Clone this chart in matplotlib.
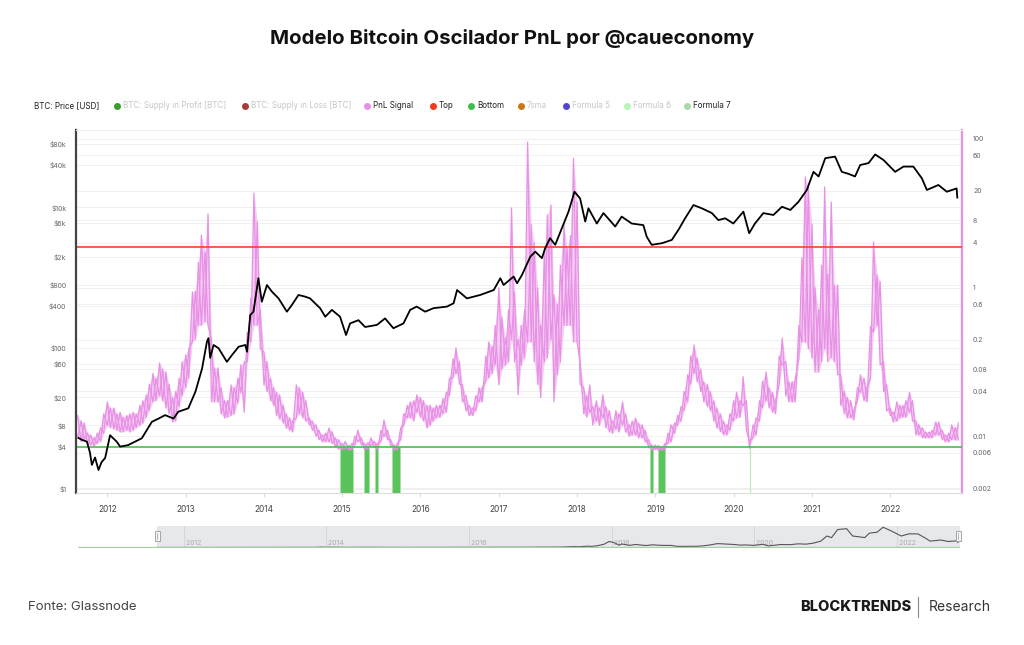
import numpy as np
import pandas as pd
import matplotlib
matplotlib.use("Agg")
import matplotlib.pyplot as plt
import matplotlib.dates as mdates
from matplotlib.lines import Line2D
from matplotlib.patches import Rectangle

plt.rcParams['font.family'] = ['Inter', 'DejaVu Sans']

# BTC price (USD)
price_dates = [
    '2011-08-20', '2011-09-04', '2011-09-28', '2011-10-12', '2011-10-21', '2011-11-05', '2011-11-21', '2011-12-05', '2011-12-22',
    '2012-01-14', '2012-02-14', '2012-03-01', '2012-04-07', '2012-06-10', '2012-07-27', '2012-08-27', '2012-09-27', '2012-11-05', '2012-11-27',
    '2013-01-13', '2013-02-15', '2013-03-18', '2013-04-10', '2013-04-17', '2013-04-25', '2013-05-11', '2013-06-03', '2013-07-12', '2013-08-05',
    '2013-09-05', '2013-10-06', '2013-10-14', '2013-10-29', '2013-11-13', '2013-12-06', '2013-12-22',
    '2014-01-15', '2014-02-07', '2014-03-10', '2014-04-18', '2014-05-11', '2014-06-11', '2014-07-12', '2014-08-04', '2014-09-20', '2014-10-14',
    '2014-11-14', '2014-12-22',
    '2015-01-19', '2015-02-07', '2015-03-18', '2015-04-18', '2015-06-12', '2015-07-20', '2015-08-28', '2015-10-14', '2015-11-14', '2015-12-15',
    '2016-01-23', '2016-03-02', '2016-05-04', '2016-06-04', '2016-06-20', '2016-08-05', '2016-10-06', '2016-12-08',
    '2017-01-08', '2017-01-23', '2017-03-11', '2017-03-27', '2017-04-19', '2017-05-28', '2017-06-20', '2017-07-21', '2017-08-05', '2017-08-28',
    '2017-09-21', '2017-10-22', '2017-11-22', '2017-12-20',
    '2018-01-15', '2018-02-08', '2018-02-23', '2018-04-03', '2018-05-04', '2018-06-28', '2018-07-28', '2018-09-13', '2018-11-06', '2018-11-22',
    '2018-12-15',
    '2019-02-01', '2019-03-19', '2019-04-19', '2019-05-20', '2019-06-28', '2019-08-06', '2019-09-22', '2019-10-22', '2019-11-23', '2019-12-31',
    '2020-02-16', '2020-03-14', '2020-04-10', '2020-05-19', '2020-07-05', '2020-08-14', '2020-09-22', '2020-10-30', '2020-12-08',
    '2021-01-08', '2021-02-01', '2021-03-04', '2021-04-19', '2021-05-20', '2021-06-20', '2021-07-21', '2021-08-14', '2021-09-22', '2021-10-23',
    '2021-12-01',
    '2022-01-24', '2022-03-04', '2022-04-19', '2022-05-29', '2022-06-21', '2022-08-14', '2022-09-22', '2022-11-07', '2022-11-10',
]
price_usd = [
    5.3, 5.0, 4.7, 3.3, 2.2, 2.8, 1.86, 2.4, 2.76,
    5.8, 4.7, 4.0, 4.2, 5.25, 9.0, 10.0, 11.2, 10.0, 12.5,
    14.0, 24, 51, 124, 139, 73, 111, 100, 64, 80,
    105, 111, 89, 296, 330, 985, 457,
    790, 636, 510, 330, 410, 570, 540, 510, 370, 280,
    350, 280,
    154, 225, 250, 200, 214, 265, 192, 225, 350, 390,
    330, 370, 390, 435, 670, 510, 570, 670,
    985, 790, 1040, 835, 1100, 2000, 2350, 1900, 2630, 3650,
    2940, 5050, 8700, 16700,
    13400, 6300, 9700, 5900, 8300, 5350, 7400, 5900, 5600, 3830,
    2940,
    3100, 3450, 4800, 7000, 10800, 9700, 8300, 6600, 7000, 5900,
    8700, 4300, 5900, 8300, 7800, 10200, 9200, 12000, 17700,
    32000, 27500, 50000, 52600, 32000, 30000, 27500, 40000, 42600, 56500,
    47000,
    32000, 38000, 38000, 25800, 17700, 20800, 16700, 18600, 13800,
]

# PnL signal band (upper / lower edge of the noisy pink trace), 1st and 15th of every month
signal_start = '2011-08-15'
signal_end = '2022-11-15'
pnl_high = [
    # 2011 (Aug 15 - Dec 15)
    0.019, 0.016, 0.015, 0.011, 0.0104, 0.0095, 0.011, 0.013, 0.020,
    # 2012
    0.029, 0.024, 0.024, 0.020, 0.021, 0.018, 0.019, 0.020, 0.021, 0.020, 0.026, 0.030,
    0.036, 0.050, 0.070, 0.060, 0.097, 0.080, 0.073, 0.050, 0.033, 0.040, 0.060, 0.10,
    # 2013
    0.124, 0.15, 0.87, 0.9, 2.2, 5.1, 3.0, 9.8, 0.20, 0.083, 0.083, 0.045,
    0.030, 0.030, 0.049, 0.045, 0.060, 0.091, 0.10, 0.25, 0.72, 18.7, 7.6, 0.5,
    # 2014
    0.136, 0.10, 0.060, 0.045, 0.039, 0.036, 0.026, 0.020, 0.0176, 0.016, 0.049, 0.045,
    0.039, 0.030, 0.0176, 0.016, 0.0142, 0.012, 0.0104, 0.011, 0.0129, 0.0115, 0.0095, 0.0090,
    # 2015
    0.0080, 0.0085, 0.0075, 0.0080, 0.0100, 0.0121, 0.0095, 0.0080, 0.0082, 0.0095, 0.0085, 0.0080,
    0.0120, 0.0165, 0.0120, 0.0090, 0.0076, 0.0080, 0.0130, 0.0200, 0.026, 0.029, 0.030, 0.036,
    # 2016
    0.033, 0.030, 0.026, 0.026, 0.024, 0.026, 0.026, 0.032, 0.039, 0.060, 0.110, 0.154,
    0.100, 0.049, 0.035, 0.026, 0.024, 0.035, 0.045, 0.045, 0.120, 0.185, 0.160, 0.31,
    # 2017
    0.99, 0.40, 0.21, 0.50, 11.8, 0.87, 0.20, 0.31, 0.5, 91, 7.0, 4.0,
    1.0, 0.31, 3.0, 9.5, 12.9, 0.8, 0.6, 2.0, 7.0, 3.4, 5.0, 55,
    # 2018
    14, 0.10, 0.045, 0.035, 0.049, 0.025, 0.030, 0.024, 0.036, 0.025, 0.022, 0.016,
    0.022, 0.020, 0.029, 0.020, 0.0142, 0.016, 0.0176, 0.015, 0.0142, 0.012, 0.0090, 0.0076,
    # 2019
    0.0076, 0.0075, 0.0072, 0.0080, 0.0110, 0.0142, 0.0150, 0.0190, 0.025, 0.040, 0.067, 0.120,
    0.169, 0.113, 0.080, 0.054, 0.050, 0.040, 0.030, 0.024, 0.020, 0.016, 0.0142, 0.020,
    # 2020
    0.030, 0.039, 0.030, 0.063, 0.030, 0.0085, 0.0142, 0.0176, 0.030, 0.055, 0.073, 0.045,
    0.039, 0.030, 0.120, 0.21, 0.10, 0.054, 0.054, 0.060, 0.31, 2.5, 30.8, 22.6,
    # 2021
    7.0, 1.0, 0.5, 2.0, 22.6, 1.5, 14.2, 1.08, 1.08, 0.067, 0.040, 0.033,
    0.030, 0.022, 0.045, 0.067, 0.060, 0.045, 0.30, 4.1, 1.48, 1.2, 0.10, 0.050,
    # 2022 (Jan 1 - Nov 15)
    0.024, 0.021, 0.029, 0.026, 0.026, 0.030, 0.039, 0.030, 0.016, 0.0142, 0.0129, 0.0114,
    0.0114, 0.012, 0.0155, 0.0155, 0.012, 0.0104, 0.0110, 0.0142, 0.0130, 0.0150,
]
pnl_low = [
    # 2011
    0.0095, 0.0085, 0.009, 0.0078, 0.0076, 0.0074, 0.008, 0.0085, 0.011,
    # 2012
    0.014, 0.013, 0.0125, 0.012, 0.0114, 0.0114, 0.012, 0.0114, 0.012, 0.013, 0.014, 0.015,
    0.018, 0.022, 0.029, 0.030, 0.035, 0.030, 0.024, 0.020, 0.0155, 0.016, 0.025, 0.035,
    # 2013
    0.045, 0.06, 0.185, 0.20, 0.31, 0.31, 0.35, 0.31, 0.029, 0.029, 0.029, 0.020,
    0.0176, 0.018, 0.019, 0.020, 0.028, 0.039, 0.021, 0.10, 0.185, 0.31, 0.31, 0.15,
    # 2014
    0.049, 0.040, 0.030, 0.026, 0.019, 0.017, 0.015, 0.0129, 0.012, 0.0114, 0.0176, 0.020,
    0.0176, 0.016, 0.0142, 0.0120, 0.0100, 0.0090, 0.0084, 0.0084, 0.0084, 0.0080, 0.0070, 0.0067,
    # 2015
    0.0066, 0.0068, 0.0065, 0.0066, 0.0076, 0.0085, 0.0076, 0.0066, 0.0067, 0.0075, 0.0070, 0.0066,
    0.0085, 0.0100, 0.0090, 0.0075, 0.0065, 0.0066, 0.0090, 0.0140, 0.0176, 0.0176, 0.0160, 0.021,
    # 2016
    0.018, 0.016, 0.0129, 0.014, 0.016, 0.0176, 0.018, 0.020, 0.021, 0.035, 0.061, 0.070,
    0.050, 0.029, 0.022, 0.019, 0.019, 0.022, 0.029, 0.029, 0.055, 0.061, 0.070, 0.091,
    # 2017
    0.049, 0.08, 0.091, 0.10, 0.20, 0.10, 0.036, 0.09, 0.113, 0.185, 0.185, 0.10,
    0.05, 0.033, 0.10, 0.113, 0.20, 0.029, 0.067, 0.10, 0.31, 0.31, 0.31, 0.185,
    # 2018
    0.185, 0.05, 0.020, 0.018, 0.021, 0.0142, 0.016, 0.014, 0.0176, 0.013, 0.0114, 0.0110,
    0.0125, 0.0114, 0.0142, 0.0114, 0.0100, 0.0104, 0.0104, 0.0095, 0.0095, 0.0084, 0.0070, 0.0065,
    # 2019
    0.0066, 0.0065, 0.0065, 0.0066, 0.0080, 0.0084, 0.0110, 0.0142, 0.016, 0.022, 0.029, 0.050,
    0.070, 0.054, 0.040, 0.029, 0.025, 0.022, 0.016, 0.0129, 0.0115, 0.0104, 0.0104, 0.0120,
    # 2020
    0.016, 0.0176, 0.018, 0.026, 0.012, 0.0069, 0.0095, 0.0104, 0.016, 0.024, 0.030, 0.024,
    0.021, 0.020, 0.050, 0.091, 0.035, 0.029, 0.029, 0.029, 0.113, 0.185, 0.185, 0.15,
    # 2021
    0.113, 0.073, 0.073, 0.10, 0.15, 0.10, 0.113, 0.10, 0.067, 0.026, 0.020, 0.0176,
    0.0176, 0.0165, 0.030, 0.039, 0.030, 0.029, 0.060, 0.25, 0.31, 0.091, 0.040, 0.022,
    # 2022
    0.019, 0.0155, 0.016, 0.0176, 0.018, 0.018, 0.021, 0.016, 0.0104, 0.0104, 0.0095, 0.0095,
    0.0095, 0.0095, 0.0104, 0.0104, 0.0090, 0.0084, 0.0084, 0.0090, 0.0089, 0.0089,
]

top_level = 3.5
bottom_level = 0.0072

# periods where the signal sits under the bottom band
bottom_zones = [
    ('2014-12-22', '2015-02-20'),
    ('2015-04-13', '2015-05-07'),
    ('2015-06-04', '2015-06-18'),
    ('2015-08-22', '2015-09-28'),
    ('2018-12-07', '2018-12-22'),
    ('2019-01-15', '2019-02-15'),
]
formula7_dates = ['2020-03-17']

left_ticks = [1, 4, 8, 20, 60, 100, 400, 800, 2000, 6000, 10000, 40000, 80000]
left_labels = ['$1', '$4', '$8', '$20', '$60', '$100', '$400', '$800', '$2k', '$6k', '$10k', '$40k', '$80k']
right_ticks = [0.002, 0.006, 0.01, 0.04, 0.08, 0.2, 0.6, 1, 4, 8, 20, 60, 100]
right_labels = ['0.002', '0.006', '0.01', '0.04', '0.08', '0.2', '0.6', '1', '4', '8', '20', '60', '100']

price_dates = pd.to_datetime(price_dates)
sig_dates = pd.date_range(signal_start, signal_end, freq='SMS')
hi = np.array(pnl_high)
lo = np.array(pnl_low)
even = np.arange(len(hi)) % 2 == 0
zig_a = np.where(even, hi, lo)
zig_b = np.where(even, lo, hi)

W, H = 1024, 645
PINK = '#e890e6'
fig = plt.figure(figsize=(W / 100, H / 100), dpi=100)
fig.patch.set_facecolor('white')

ax = fig.add_axes([76 / W, 1 - 493 / H, 886 / W, 363 / H])
ax2 = ax.twinx()
ax.set_zorder(ax2.get_zorder() + 1)
ax.patch.set_visible(False)

# signal axis (drawn underneath the price)
sig_lo, sig_hi = 0.00172, 132
lo_l, hi_l = 0.877, 125700
ax2.set_yscale('log')
ax2.set_ylim(sig_lo, sig_hi)
for v in right_ticks:
    ax2.axhline(v, color='#f0f0f0', lw=0.7, zorder=0)
for v in left_ticks:
    f = (np.log10(v) - np.log10(lo_l)) / (np.log10(hi_l) - np.log10(lo_l))
    ax2.plot([0, 1], [f, f], transform=ax2.transAxes, color='#f0f0f0', lw=0.7, zorder=0)

ax2.fill_between(sig_dates, lo, hi, color=PINK, alpha=0.45, lw=0, zorder=2)
ax2.plot(sig_dates, zig_a, color=PINK, lw=0.9, zorder=2)
ax2.plot(sig_dates, zig_b, color=PINK, lw=0.9, zorder=2)
ax2.axhline(top_level, color='#f2462a', lw=1.2, zorder=3)
ax2.axhline(bottom_level, color='#4cc04f', lw=1.2, zorder=3)
for s, e in bottom_zones:
    ax2.fill_between(pd.to_datetime([s, e]), sig_lo, bottom_level, color='#5ac35c',
                     edgecolor='#a9e2a9', lw=0.6, zorder=1)
for d in formula7_dates:
    ax2.vlines(pd.to_datetime(d), sig_lo, bottom_level, color='#bfe8bf', lw=0.9, zorder=1)

ax2.set_yticks(right_ticks)
ax2.set_yticklabels(right_labels)
ax2.yaxis.set_minor_locator(plt.NullLocator())
ax2.tick_params(axis='y', length=0, pad=8, labelsize=5, labelcolor='#666666')
for sp in ['left', 'top', 'bottom']:
    ax2.spines[sp].set_visible(False)
ax2.spines['right'].set_color(PINK)
ax2.spines['right'].set_linewidth(1.6)

# price axis
ax.set_yscale('log')
ax.set_ylim(lo_l, hi_l)
ax.plot(price_dates, price_usd, color='black', lw=1.3, zorder=5)
ax.set_yticks(left_ticks)
ax.set_yticklabels(left_labels)
ax.yaxis.set_minor_locator(plt.NullLocator())
ax.tick_params(axis='y', length=0, pad=7, labelsize=5, labelcolor='#666666')

ax.set_xlim(pd.Timestamp('2011-08-08'), pd.Timestamp('2022-12-02'))
ax.xaxis.set_major_locator(mdates.YearLocator())
ax.xaxis.set_major_formatter(mdates.DateFormatter('%Y'))
ax.tick_params(axis='x', length=3, color='#dddddd', pad=6, labelsize=6, labelcolor='#444444')
ax.spines['left'].set_color('#444444')
ax.spines['left'].set_linewidth(1.6)
ax.spines['right'].set_visible(False)
ax.spines['top'].set_color('#eeeeee')
ax.spines['bottom'].set_color('#dddddd')

# navigator
nav = fig.add_axes([78 / W, 1 - 548 / H, 882 / W, 22 / H])
nav.set_xlim(pd.Timestamp('2010-07-09'), pd.Timestamp('2022-11-21'))
nav.set_ylim(-1500, 60000)
sel_start = mdates.date2num(pd.Timestamp('2011-08-20'))
sel_end = mdates.date2num(pd.Timestamp('2022-11-16'))
nav.axvspan(sel_start, sel_end, color='#e7e8eb', zorder=0)
for yr in range(2012, 2023, 2):
    d = pd.Timestamp(f'{yr}-01-01')
    nav.axvline(d, color='#d2d3d6', lw=0.6, zorder=1)
    nav.text(d, 0.08, f' {yr}', transform=nav.get_xaxis_transform(), fontsize=5,
             color='#aaaaaa', ha='left', va='bottom')
nav.plot(price_dates, price_usd, color='#555555', lw=0.8, zorder=3)
nav.axhline(-1500, color='#9fd49f', lw=1.6, zorder=4)
nav.axis('off')
for px in (157, 958):
    fig.add_artist(Rectangle((px / W - 2.5 / W, 1 - 541 / H), 5 / W, 10 / H, transform=fig.transFigure,
                             facecolor='#f7f7f7', edgecolor='#999999', lw=0.6, zorder=10))
    fig.add_artist(Line2D([px / W, px / W], [1 - 539 / H, 1 - 533 / H], transform=fig.transFigure,
                          color='#999999', lw=0.5, zorder=11))

# title
fig.text(0.5, 1 - 38 / H, 'Modelo Bitcoin Oscilador PnL por @caueconomy', ha='center', va='center',
         fontsize=14.7, fontweight='bold', color='#111111')

# legend row
ly = 1 - 106 / H
fig.text(34 / W, ly, 'BTC: Price [USD]', fontsize=5.8, color='#222222', va='center')
legend_items = [
    (117, '#3a9c2e', 'BTC: Supply in Profit [BTC]', '#c6c6c6'),
    (245, '#a53c3c', 'BTC: Supply in Loss [BTC]', '#c6c6c6'),
    (367, PINK, 'PnL Signal', '#222222'),
    (433, '#f23a1e', 'Top', '#222222'),
    (471, '#3cbf4e', 'Bottom', '#222222'),
    (521, '#c67a16', '7sma', '#c6c6c6'),
    (566, '#5246cf', 'Formula 5', '#c6c6c6'),
    (627, '#b9f5b9', 'Formula 6', '#c6c6c6'),
    (687, '#a9dba9', 'Formula 7', '#222222'),
]
for mx, mc, label, tc in legend_items:
    fig.add_artist(Line2D([mx / W], [ly], marker='o', markersize=4, color=mc, transform=fig.transFigure))
    fig.text((mx + 6) / W, ly, label, fontsize=5.8, color=tc, va='center')

# footer
fy = 1 - 607 / H
fig.text(28 / W, fy, 'Fonte: Glassnode', fontsize=9.5, color='#444444', va='center')
fig.text(911 / W, fy, 'BLOCKTRENDS', fontsize=10.5, fontweight='heavy', color='#1a1a1a', va='center', ha='right')
fig.add_artist(Line2D([918 / W, 918 / W], [1 - 597 / H, 1 - 617 / H], transform=fig.transFigure, color='#888888', lw=0.8))
fig.text(929 / W, fy, 'Research', fontsize=10, color='#333333', va='center')

fig.savefig('out.png', dpi=100)
